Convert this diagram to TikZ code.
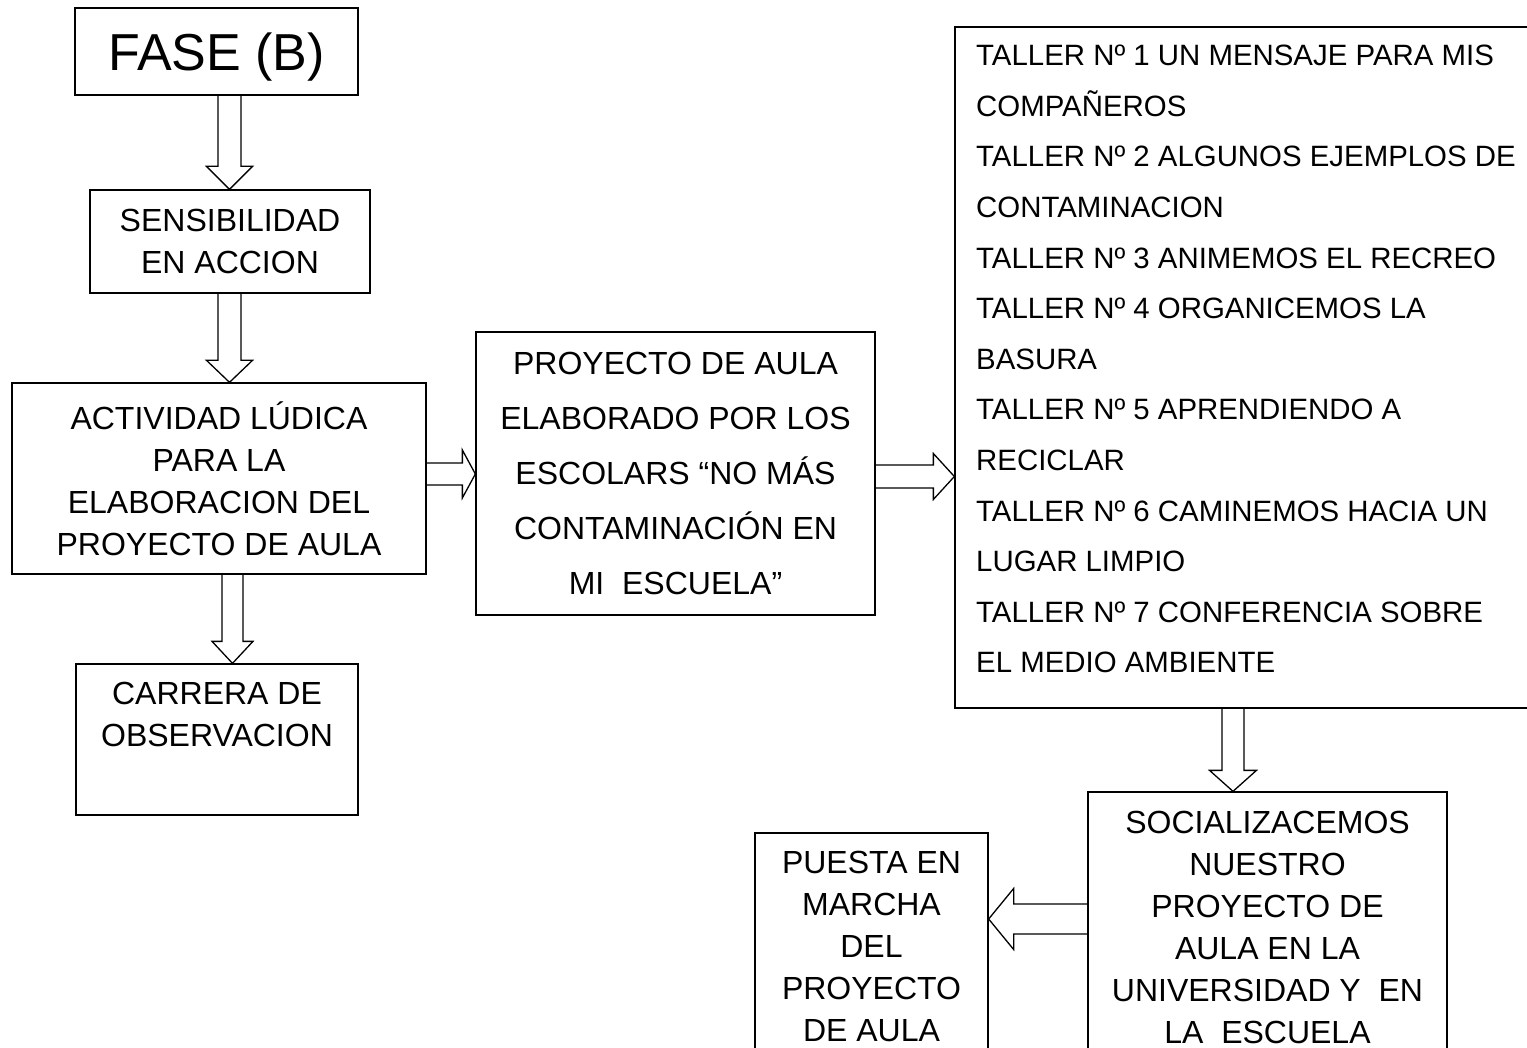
\documentclass[tikz,border=0pt]{standalone}
\usepackage{fontspec}
\setmainfont{Liberation Sans}
\usetikzlibrary{calc}
\tikzset{
  box/.style={draw, line width=1.3pt, inner sep=0pt, align=center, font=\fontsize{32}{42}\selectfont},
  txt/.style={inner sep=0pt, align=center, font=\fontsize{32}{42}\selectfont},
  blk/.style={draw, line width=1.3pt, line join=miter},
}
% vertical (downward) block arrow: #1 start, #2 tip, #3 half shaft, #4 half head, #5 head length
\newcommand\dblk[5]{%
  \draw[blk] ($(#1)+(-#3,0)$) -- ($(#2)+(-#3,-#5)$) -- ($(#2)+(-#4,-#5)$) -- (#2)
    -- ($(#2)+(#4,-#5)$) -- ($(#2)+(#3,-#5)$) -- ($(#1)+(#3,0)$);}
% rightward block arrow
\newcommand\rblk[5]{%
  \draw[blk] ($(#1)+(0,-#3)$) -- ($(#2)+(-#5,-#3)$) -- ($(#2)+(-#5,-#4)$) -- (#2)
    -- ($(#2)+(-#5,#4)$) -- ($(#2)+(-#5,#3)$) -- ($(#1)+(0,#3)$);}
% leftward block arrow
\newcommand\lblk[5]{%
  \draw[blk] ($(#1)+(0,-#3)$) -- ($(#2)+(#5,-#3)$) -- ($(#2)+(#5,-#4)$) -- (#2)
    -- ($(#2)+(#5,#4)$) -- ($(#2)+(#5,#3)$) -- ($(#1)+(0,#3)$);}
\begin{document}
\begin{tikzpicture}[x=1pt, y=-1pt]
\useasboundingbox (0,0) rectangle (1527,1048);
\clip (0,0) rectangle (1527,1048);

% boxes
\node[box, minimum width=283pt, minimum height=87pt, text height=37.4pt, text depth=0pt, font=\fontsize{52}{60}\selectfont] (fase) at (216.5,51.5) {FASE (B)};
\node[box, minimum width=280pt, minimum height=103pt] (sens) at (230,241.5) {SENSIBILIDAD\\EN ACCION};
\node[box, minimum width=414pt, minimum height=191pt] (act) at (219,478.5) {ACTIVIDAD LÚDICA\\PARA LA\\ELABORACION DEL\\PROYECTO DE AULA};
\node[box, minimum width=282pt, minimum height=151pt] (car) at (217,739.5) {};
\node[txt, anchor=north] (cartxt) at (217,682) {CARRERA DE\\OBSERVACION};
\node[box, minimum width=399pt, minimum height=283pt, font=\fontsize{32}{55}\selectfont] (proy) at (675.5,473.5) {PROYECTO DE AULA\\ELABORADO POR LOS\\ESCOLARS “NO MÁS\\CONTAMINACIÓN EN\\MI\ \ ESCUELA”};
\node[box, minimum width=590pt, minimum height=681pt] (taller) at (1250,367.5) {};
\node[txt, anchor=north west, align=left, font=\fontsize{29.4}{50.6}\selectfont] (tallertxt) at (976,45) {TALLER Nº 1 UN MENSAJE PARA MIS\\COMPAÑEROS\\TALLER Nº 2 ALGUNOS EJEMPLOS DE\\CONTAMINACION\\TALLER Nº 3 ANIMEMOS EL RECREO\\TALLER Nº 4 ORGANICEMOS LA\\BASURA\\TALLER Nº 5 APRENDIENDO A\\RECICLAR\\TALLER Nº 6 CAMINEMOS HACIA UN\\LUGAR LIMPIO\\TALLER Nº 7 CONFERENCIA SOBRE\\EL MEDIO AMBIENTE};
\node[box, minimum width=359pt, minimum height=278pt] (social) at (1267.5,931) {};
\node[txt, anchor=north] (socialtxt) at (1267.5,811) {SOCIALIZACEMOS\\NUESTRO\\PROYECTO DE\\AULA EN LA\\UNIVERSIDAD Y\ \ EN\\LA\ \ ESCUELA};
\node[box, minimum width=233pt, minimum height=237pt] (puesta) at (871.5,951.5) {};
\node[txt, anchor=north] (puestatxt) at (871.5,851) {PUESTA EN\\MARCHA\\DEL\\PROYECTO\\DE AULA};

% connector end points
\coordinate (a1s) at (229.5,0 |- fase.south);
\coordinate (a1e) at (229.5,0 |- sens.north);
\coordinate (a2s) at (229.5,0 |- sens.south);
\coordinate (a2e) at (229.5,0 |- act.north);
\coordinate (a3s) at (232.5,0 |- act.south);
\coordinate (a3e) at (232.5,0 |- car.north);
\coordinate (h1s) at (act.east |- 0,474);
\coordinate (h1e) at (proy.west |- 0,474);
\coordinate (h2s) at (proy.east |- 0,476.5);
\coordinate (h2e) at (taller.west |- 0,476.5);
\coordinate (a4s) at (1233,0 |- taller.south);
\coordinate (a4e) at (1233,0 |- social.north);
\coordinate (l1s) at (social.west |- 0,919);
\coordinate (l1e) at (puesta.east |- 0,919);

% block arrows
\dblk{a1s}{a1e}{11.5}{23}{23}
\dblk{a2s}{a2e}{11.5}{23}{22}
\dblk{a3s}{a3e}{10.5}{20.5}{22}
\rblk{h1s}{h1e}{11}{24}{13}
\rblk{h2s}{h2e}{11.5}{23}{21}
\dblk{a4s}{a4e}{11}{23.5}{21}
\lblk{l1s}{l1e}{15}{30.5}{25}
\end{tikzpicture}
\end{document}
